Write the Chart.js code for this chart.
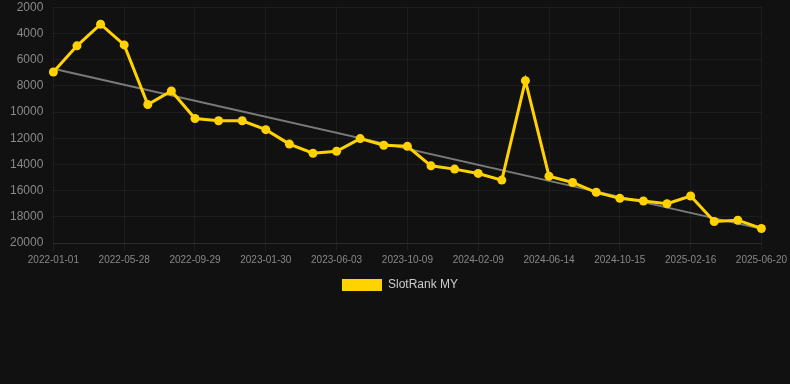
<!DOCTYPE html>
<html>
<head>
<meta charset="utf-8">
<script src="https://cdn.jsdelivr.net/npm/chart.js@4.4.1/dist/chart.umd.min.js"></script>
<style>
  html, body { margin: 0; padding: 0; background: #111111; }
  #wrap { width: 790px; height: 301px; }
</style>
</head>
<body>
<div id="wrap"><canvas id="rank-chart"></canvas></div>
<script>
  const dates = [
    "2022-01-01", "2022-02-19", "2022-04-08", "2022-05-28", "2022-07-08",
    "2022-08-18", "2022-09-29", "2022-11-08", "2022-12-19", "2023-01-30",
    "2023-03-12", "2023-04-22", "2023-06-03", "2023-07-15", "2023-08-27",
    "2023-10-09", "2023-11-19", "2023-12-30", "2024-02-09", "2024-03-21",
    "2024-05-03", "2024-06-14", "2024-07-25", "2024-09-04", "2024-10-15",
    "2024-11-25", "2025-01-05", "2025-02-16", "2025-03-29", "2025-05-09",
    "2025-06-20"
  ];
  const ranks = [
    6950, 4950, 3300, 4880, 9430, 8400, 10500, 10670, 10670, 11350,
    12450, 13150, 13000, 12030, 12540, 12620, 14110, 14360, 14690, 15200,
    7610, 14900, 15380, 16130, 16590, 16790, 17000, 16410, 18360, 18260,
    18890
  ];
  const trendStart = 6700;
  const trendEnd = 18920;
  const yTicks = { min: 2000, max: 20000, step: 2000 };

  // trend only has its two ends, the line joins them
  const trend = dates.map(() => null);
  trend[0] = trendStart;
  trend[trend.length - 1] = trendEnd;

  new Chart(document.getElementById("rank-chart"), {
    type: "line",
    data: {
      labels: dates,
      datasets: [
        {
          label: "SlotRank MY",
          data: ranks,
          borderColor: "#ffd200",
          backgroundColor: "#ffd200",
          borderWidth: 3,
          pointRadius: 4.5,
          pointBorderWidth: 0,
          pointBackgroundColor: "#ffd200",
          tension: 0,
          fill: false
        },
        {
          label: "trend",
          data: trend,
          borderColor: "#7a7a7a",
          borderWidth: 2,
          pointRadius: 0,
          spanGaps: true,
          fill: false
        }
      ]
    },
    options: {
      responsive: true,
      maintainAspectRatio: false,
      animation: false,
      layout: { padding: { top: -1, left: 10 } },
      plugins: {
        tooltip: { enabled: false },
        legend: {
          position: "bottom",
          labels: {
            color: "#cccccc",
            font: { size: 12 },
            boxWidth: 40,
            boxHeight: 12,
            filter: (item) => item.datasetIndex === 0,
            generateLabels: (chart) =>
              Chart.defaults.plugins.legend.labels
                .generateLabels(chart)
                .map((l) => ({ ...l, lineWidth: 0 }))
          }
        }
      },
      scales: {
        x: {
          offset: false,
          grid: { color: "rgba(255,255,255,0.05)" },
          border: { color: "rgba(255,255,255,0.08)" },
          ticks: {
            color: "#888888",
            font: { size: 10 },
            autoSkip: true,
            maxTicksLimit: 11,
            maxRotation: 0
          }
        },
        y: {
          reverse: true,
          min: yTicks.min,
          max: yTicks.max,
          grid: {
            color: "rgba(255,255,255,0.05)",
            drawTicks: true,
            tickLength: 10,
            tickColor: "rgba(0,0,0,0)"
          },
          border: { display: false },
          ticks: {
            stepSize: yTicks.step,
            color: "#888888",
            font: { size: 12 },
            padding: 0,
            callback: (v) => String(v)
          }
        }
      }
    }
  });
</script>
</body>
</html>
